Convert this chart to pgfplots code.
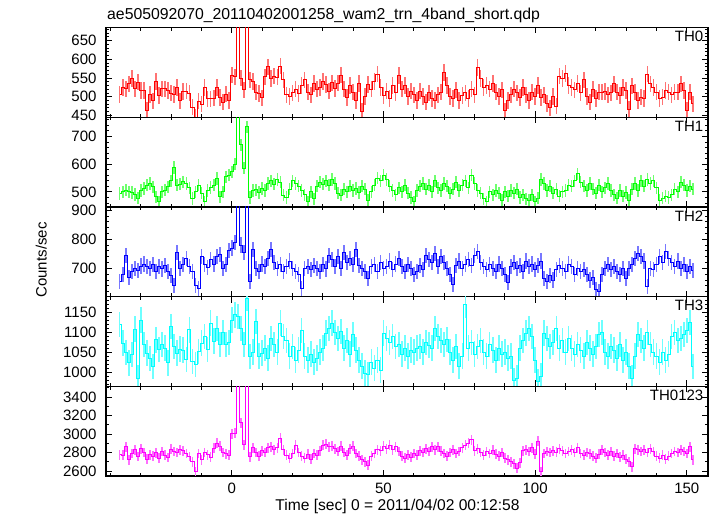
\documentclass[border=0pt]{standalone}
\usepackage{pgfplots}
\pgfplotsset{compat=1.18}
\usepackage{pgfplotstable}
\usepackage{fontspec}
\setmainfont{Liberation Sans}

\definecolor{qred}{RGB}{255,0,0}
\definecolor{qgreen}{RGB}{0,255,0}
\definecolor{qblue}{RGB}{0,0,255}
\definecolor{qcyan}{RGB}{0,255,255}
\definecolor{qmag}{RGB}{255,0,255}
\definecolor{qredl}{RGB}{255,115,115}
\definecolor{qgreenl}{RGB}{110,255,110}
\definecolor{qbluel}{RGB}{120,120,255}
\definecolor{qcyanl}{RGB}{110,255,255}
\definecolor{qmagl}{RGB}{255,110,255}

% bins of 1 s, t = -37 ... 152
\pgfplotstableread[row sep=\\]{
y\\
506\\525\\521\\534\\548\\521\\539\\516\\516\\463\\506\\489\\541\\503\\521\\521\\516\\509\\506\\525\\489\\514\\515\\509\\472\\445\\488\\480\\525\\494\\494\\496\\525\\
498\\485\\507\\490\\
558\\553\\760\\550\\518\\760\\
545\\540\\512\\508\\497\\553\\580\\548\\555\\552\\582\\545\\505\\500\\510\\
520\\508\\530\\545\\512\\505\\535\\520\\525\\540\\533\\515\\537\\522\\536\\
558\\520\\498\\530\\512\\490\\535\\460\\500\\532\\520\\540\\
560\\525\\503\\515\\495\\530\\510\\556\\520\\530\\500\\515\\
505\\490\\515\\500\\485\\510\\495\\490\\505\\512\\
565\\530\\500\\495\\518\\490\\503\\510\\495\\520\\505\\
578\\548\\525\\530\\520\\535\\512\\500\\518\\462\\490\\505\\
520\\510\\498\\525\\505\\490\\512\\500\\530\\498\\505\\
482\\470\\500\\475\\
555\\548\\562\\530\\
525\\518\\535\\510\\545\\
500\\485\\520\\495\\
512\\512\\514\\505\\510\\534\\512\\503\\525\\516\\467\\529\\512\\490\\499\\495\\560\\534\\525\\512\\495\\499\\516\\512\\505\\512\\512\\534\\516\\463\\512\\481\\
}\thzero

\pgfplotstableread[row sep=\\]{
y\\
494\\500\\506\\500\\498\\491\\478\\505\\512\\524\\530\\518\\482\\465\\500\\506\\518\\540\\588\\524\\528\\536\\530\\515\\476\\500\\525\\495\\464\\505\\516\\524\\548\\482\\500\\554\\560\\
572\\600\\790\\670\\585\\735\\480\\505\\
508\\498\\512\\505\\530\\540\\528\\545\\535\\488\\480\\510\\540\\
530\\520\\505\\490\\465\\500\\475\\520\\535\\528\\
540\\525\\545\\530\\495\\488\\510\\500\\
520\\505\\512\\498\\520\\510\\470\\500\\525\\
550\\540\\560\\545\\520\\
505\\490\\515\\500\\525\\495\\480\\465\\
505\\520\\530\\510\\525\\500\\540\\515\\505\\530\\520\\495\\510\\535\\505\\525\\540\\515\\560\\530\\
505\\495\\475\\465\\500\\490\\505\\495\\
470\\500\\485\\505\\495\\510\\
480\\490\\475\\470\\490\\465\\478\\
545\\530\\
505\\520\\495\\510\\485\\500\\505\\525\\
520\\540\\565\\535\\520\\
505\\530\\510\\495\\525\\500\\515\\530\\505\\
490\\478\\505\\485\\498\\470\\
510\\530\\505\\540\\520\\545\\530\\540\\515\\
470\\478\\485\\480\\490\\
510\\500\\535\\525\\505\\520\\510\\
}\thone

\pgfplotstableread[row sep=\\]{
y\\
655\\680\\745\\668\\690\\700\\692\\708\\715\\705\\700\\712\\690\\705\\698\\710\\688\\675\\640\\755\\700\\712\\735\\705\\690\\640\\630\\740\\712\\702\\730\\715\\740\\748\\700\\712\\760\\
770\\790\\960\\780\\755\\940\\655\\765\\
700\\690\\715\\705\\735\\765\\720\\700\\712\\690\\705\\725\\700\\
690\\680\\632\\700\\705\\695\\710\\
700\\690\\712\\698\\
745\\730\\705\\
740\\700\\755\\720\\735\\712\\765\\
710\\700\\690\\665\\705\\
712\\690\\720\\700\\705\\725\\695\\715\\735\\705\\690\\712\\700\\680\\690\\710\\695\\
745\\730\\720\\750\\705\\740\\720\\
700\\680\\645\\
710\\725\\700\\715\\730\\710\\745\\758\\
720\\705\\695\\712\\700\\690\\715\\700\\680\\
650\\
705\\720\\700\\710\\690\\725\\705\\715\\695\\710\\725\\
665\\655\\675\\660\\695\\
710\\700\\690\\715\\705\\680\\700\\690\\695\\680\\660\\670\\
628\\620\\
680\\700\\712\\695\\705\\690\\680\\700\\665\\700\\712\\
735\\750\\740\\725\\
637\\
700\\695\\712\\740\\720\\757\\735\\
720\\705\\725\\700\\712\\690\\705\\692\\
}\thtwo

\pgfplotstableread[row sep=\\]{
y\\
1120\\1073\\1049\\1023\\1044\\1108\\985\\1131\\1069\\1048\\1034\\1014\\1081\\1056\\1070\\1060\\1023\\1115\\1065\\1048\\1058\\1055\\1031\\1106\\1027\\1019\\1052\\1073\\1090\\1056\\1123\\1078\\1110\\1070\\1100\\1070\\1075\\
1131\\1144\\1140\\1110\\1070\\1186\\1039\\1050\\1127\\1040\\
1048\\1060\\1035\\1085\\1070\\1050\\1123\\1090\\
1080\\1040\\1065\\1030\\1055\\1105\\
1040\\1030\\1045\\1025\\1035\\1050\\1060\\
1098\\1110\\1123\\1100\\1085\\
1102\\1060\\1080\\1045\\1095\\1055\\
1030\\1015\\997\\993\\1025\\1010\\1030\\1005\\
1098\\1085\\1075\\1090\\1065\\
1070\\1045\\1060\\1040\\1055\\1050\\
1060\\1065\\1050\\1075\\1068\\1060\\
1110\\1090\\1080\\
1070\\1082\\1050\\1030\\1065\\1015\\1040\\1169\\
1060\\1075\\1045\\1065\\1080\\1050\\1040\\1070\\1055\\1030\\1060\\1045\\1050\\1035\\1040\\
978\\985\\
1060\\1080\\1098\\1110\\1090\\
1030\\975\\990\\
1098\\1085\\1065\\1075\\1110\\1060\\1080\\
1050\\1085\\1060\\1045\\1070\\1055\\1040\\1075\\1060\\1045\\1065\\
1095\\1100\\
1050\\1040\\1065\\1055\\1035\\1070\\1030\\1050\\
1015\\985\\1040\\
1095\\1080\\1060\\1100\\1070\\1050\\
1040\\1025\\1050\\1030\\1045\\
1090\\1100\\1080\\1085\\1095\\1105\\1125\\1014\\
}\ththree

\pgfplotstableread[row sep=\\]{
y\\
2775\\2770\\2860\\2720\\2790\\2830\\2757\\2840\\2800\\2730\\2775\\2760\\2795\\2740\\2810\\2770\\2745\\2835\\2810\\2800\\2830\\2820\\2790\\2757\\2700\\2590\\2790\\2720\\2800\\2775\\2750\\2847\\2900\\2870\\2800\\2785\\2770\\
3002\\3010\\3700\\3120\\2885\\3650\\2755\\2850\\2800\\2760\\
2820\\2800\\2850\\2860\\2830\\2850\\2955\\2830\\
2770\\2740\\2790\\
2880\\
2800\\2760\\2740\\2780\\2730\\2790\\2770\\
2820\\2880\\2890\\2860\\2870\\2840\\2810\\2870\\
2800\\2770\\2840\\2870\\2790\\2760\\2720\\2700\\2665\\
2760\\2790\\2830\\2820\\2870\\2840\\2880\\2830\\2860\\
2810\\2760\\2740\\2775\\2750\\
2790\\2770\\2820\\2800\\2840\\2810\\2860\\2830\\2860\\2815\\2790\\2760\\2800\\
2830\\2790\\2810\\2850\\2880\\
2900\\2937\\
2820\\2840\\2800\\2770\\2810\\2790\\2825\\2780\\2760\\2800\\2740\\
2720\\2700\\2680\\2630\\2690\\
2820\\2830\\2810\\2850\\2780\\
2920\\2590\\
2790\\2810\\2800\\2820\\2805\\2840\\2820\\2790\\2810\\2830\\2800\\2850\\2790\\2770\\2800\\2785\\2760\\2740\\2780\\
2830\\2800\\2770\\2810\\2760\\2790\\2750\\2770\\2730\\2700\\
2647\\
2840\\2830\\2810\\2830\\2800\\2840\\2810\\
2760\\2740\\2770\\2730\\2760\\
2790\\2810\\2800\\2830\\2810\\2790\\2860\\2720\\
}\thall

\pgfplotsset{
  panel/.style={
    scale only axis, width=602bp, height=89.7bp,
    anchor=south west,
    xmin=-41.5, xmax=157,
    xtick={0,50,100,150},
    minor xtick={-40,-30,...,150},
    xticklabels={},
    tick align=inside,
    major tick length=6bp, minor tick length=3.3bp,
    tick style={black, line width=0.8bp},
    axis line style={black, line width=1.3bp},
    scaled y ticks=false,
    /pgf/number format/.cd, 1000 sep={}, assume math mode=true, /pgfplots/.cd,
    tick label style={font=\fontsize{15bp}{18bp}\selectfont},
    yticklabel style={inner sep=0pt, xshift=-9.3bp},
  },
  ebar/.style 2 args={draw=none, forget plot, error bars/.cd, y dir=both, y fixed=#1, error mark=none, error bar style={draw=#2, line width=1.7bp}},
  step/.style={#1, line width=0.9bp, const plot mark mid, mark=none},
}
\newcommand{\tlabel}[1]{\node[anchor=base east, inner sep=0pt, xshift=-4.5bp, yshift=-14.2bp, font=\fontsize{15bp}{18bp}\selectfont] at (rel axis cs:1,1) {#1};}

\begin{document}
\begin{tikzpicture}
\useasboundingbox (0,0) rectangle (717bp,516bp);

% TH0
\begin{axis}[panel, at={(106bp,398.8bp)}, ymin=445, ymax=685,
  ytick={450,500,...,650}, minor ytick={450,460,...,680}]
\addplot[ebar={22}{qredl}] table[x expr=\coordindex-37, y=y]{\thzero};
\addplot[step=qred] table[x expr=\coordindex-37, y=y]{\thzero};
\tlabel{TH0}
\end{axis}

% TH1
\begin{axis}[panel, at={(106bp,309.1bp)}, ymin=446, ymax=769,
  ytick={500,600,700}, minor ytick={460,480,...,760}]
\addplot[ebar={22}{qgreenl}] table[x expr=\coordindex-37, y=y]{\thone};
\addplot[step=qgreen] table[x expr=\coordindex-37, y=y]{\thone};
\tlabel{TH1}
\end{axis}

% TH2
\begin{axis}[panel, at={(106bp,219.4bp)}, ymin=603, ymax=911,
  ytick={700,800,900}, minor ytick={620,640,...,900}]
\addplot[ebar={26}{qbluel}] table[x expr=\coordindex-37, y=y]{\thtwo};
\addplot[step=qblue] table[x expr=\coordindex-37, y=y]{\thtwo};
\tlabel{TH2}
\end{axis}

% TH3
\begin{axis}[panel, at={(106bp,129.7bp)}, ymin=964, ymax=1190,
  ytick={1000,1050,...,1150}, minor ytick={970,980,...,1190}]
\addplot[ebar={32}{qcyanl}] table[x expr=\coordindex-37, y=y]{\ththree};
\addplot[step=qcyan] table[x expr=\coordindex-37, y=y]{\ththree};
\tlabel{TH3}
\end{axis}

% TH0123
\begin{axis}[panel, at={(106bp,40bp)}, ymin=2546, ymax=3515,
  ytick={2600,2800,...,3400}, minor ytick={2600,2700,...,3500},
  xticklabels={0,50,100,150},
  xticklabel style={inner sep=0pt, yshift=-7bp}]
\addplot[ebar={53}{qmagl}] table[x expr=\coordindex-37, y=y]{\thall};
\addplot[step=qmag] table[x expr=\coordindex-37, y=y]{\thall};
\tlabel{TH0123}
\end{axis}

\node[anchor=base west, inner sep=0pt, font=\fontsize{15.8bp}{19bp}\selectfont] at (107bp,496bp) {ae505092070\_20110402001258\_wam2\_trn\_4band\_short.qdp};
\node[anchor=base, inner sep=0pt, font=\fontsize{15.6bp}{18bp}\selectfont] at (397.5bp,5.5bp) {Time [sec] 0 = 2011/04/02 00:12:58};
\node[anchor=base, rotate=90, inner sep=0pt, font=\fontsize{15bp}{18bp}\selectfont] at (46.5bp,256bp) {Counts/sec};
\end{tikzpicture}
\end{document}
